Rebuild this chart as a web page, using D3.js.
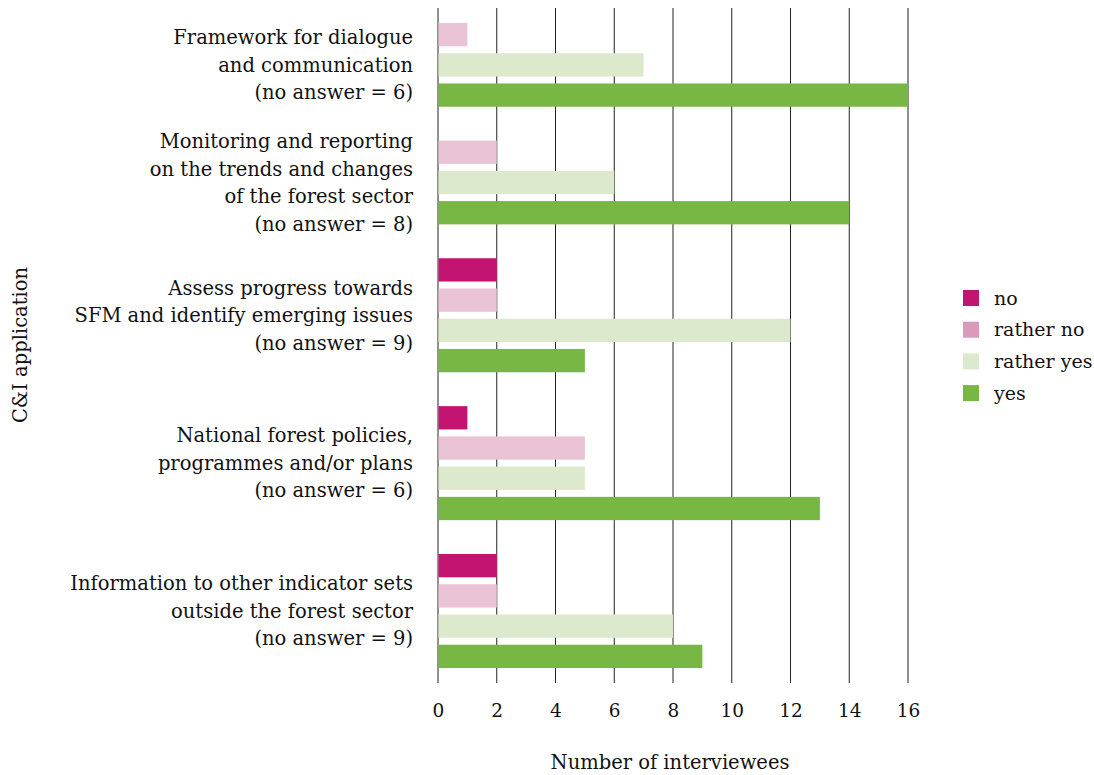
<!DOCTYPE html>
<html><head><meta charset="utf-8">
<script src="https://cdn.jsdelivr.net/npm/d3@7"></script>
<style>body{margin:0;background:#fff}svg{display:block}</style>
</head><body>
<svg id="c" width="1094" height="775"></svg>
<script>
const categories = [
  ["Framework for dialogue","and communication","(no answer = 6)"],
  ["Monitoring and reporting","on the trends and changes","of the forest sector","(no answer = 8)"],
  ["Assess progress towards","SFM and identify emerging issues","(no answer = 9)"],
  ["National forest policies,","programmes and/or plans","(no answer = 6)"],
  ["Information to other indicator sets","outside the forest sector","(no answer = 9)"]
];
const seriesNames = ["no","rather no","rather yes","yes"];
const noVals        = [0, 0, 2, 1, 2];
const ratherNoVals  = [1, 2, 2, 5, 2];
const ratherYesVals = [7, 6, 12, 5, 8];
const yesVals       = [16, 14, 5, 13, 9];
const xTicks = [0,2,4,6,8,10,12,14,16];
const barColors = ["#c41472","#eac3d7","#dde9cc","#78b743"];
const legendColors = ["#c41472","#dc99ba","#dde9cc","#78b743"];

const seriesVals = [noVals, ratherNoVals, ratherYesVals, yesVals];
const FONT = "DejaVu Serif, serif";
const FS = 19.5;
const svg = d3.select("#c");

const plotTop = 8, plotBottom = 683, plotLeft = 438, plotRight = 908;
const x = d3.scaleLinear().domain([0,16]).range([plotLeft, plotRight]);

const pad = 0.38, groupGap = 0.89;
let u = pad;
const rows = [], groups = [];
categories.forEach((c, i) => {
  const start = u;
  seriesVals.forEach((vals, s) => {
    if (vals[i] > 0) { rows.push({cat:i, s, v: vals[i], u0: u}); u += 1; }
  });
  groups.push({cat:i, mid:(start+u)/2});
  if (i < categories.length-1) u += groupGap;
});
u += pad;
const y = d3.scaleLinear().domain([0, u]).range([plotTop, plotBottom]);
const slot = y(1) - y(0);
const barH = slot * 0.77;

svg.append("g").selectAll("line").data(xTicks).join("line")
  .attr("x1", d => x(d)).attr("x2", d => x(d))
  .attr("y1", plotTop).attr("y2", plotBottom)
  .attr("stroke", "#222").attr("stroke-width", 1);

svg.append("g").selectAll("rect").data(rows).join("rect")
  .attr("x", x(0) + 0.5)
  .attr("y", d => y(d.u0) + (slot - barH)/2)
  .attr("width", d => x(d.v) - x(0) - 0.5)
  .attr("height", barH)
  .attr("fill", d => barColors[d.s]);

const xAxis = d3.axisBottom(x).tickValues(xTicks).tickSize(0).tickPadding(0);
const gx = svg.append("g").attr("transform", `translate(0,${703})`).call(xAxis);
gx.select(".domain").remove();
gx.selectAll("text").attr("font-family", FONT).attr("font-size", 18.5).attr("fill","#111").attr("dy","0.75em");

const lineH = 27.5;
groups.forEach(g => {
  const lines = categories[g.cat];
  const cy = y(g.mid);
  const t = svg.append("text").attr("font-family", FONT).attr("font-size", FS)
    .attr("fill","#111").attr("text-anchor","end");
  lines.forEach((ln, k) => {
    t.append("tspan").attr("x", 413)
      .attr("y", cy + (k - (lines.length-1)/2) * lineH)
      .attr("dy", "0.35em").text(ln);
  });
});

svg.append("text").attr("x", 670).attr("y", 769).attr("text-anchor","middle")
  .attr("font-family", FONT).attr("font-size", FS).attr("fill","#111").text("Number of interviewees");
svg.append("text").attr("transform","translate(27,345) rotate(-90)").attr("text-anchor","middle")
  .attr("font-family", FONT).attr("font-size", FS).attr("fill","#111").text("C&I application");

const lg = svg.append("g").attr("transform","translate(963,290)");
const li = lg.selectAll("g").data(seriesNames).join("g")
  .attr("transform", (d,i) => `translate(0,${i*31.7})`);
li.append("rect").attr("width",16).attr("height",16).attr("fill",(d,i)=>legendColors[i]);
li.append("text").attr("x",31).attr("y",8).attr("dy","0.35em")
  .attr("font-family", FONT).attr("font-size", 19).attr("fill","#111").text(d=>d);
</script>
</body></html>
